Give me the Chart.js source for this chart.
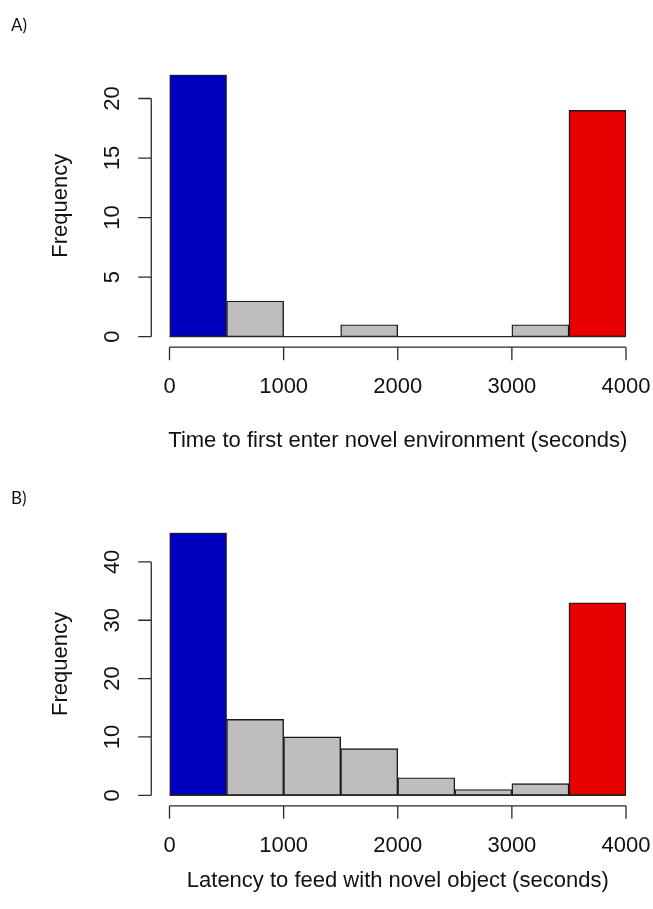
<!DOCTYPE html>
<html>
<head>
<meta charset="utf-8">
<script src="https://cdn.jsdelivr.net/npm/chart.js@4"></script>
<style>
  body { margin: 0; background: #fff; width: 653px; height: 909px; position: relative; overflow: hidden; }
  canvas { position: absolute; left: 0; display: block; }
  #cA { top: 0; }
  #cB { top: 460px; }
</style>
</head>
<body>
<canvas id="cA" width="653" height="460"></canvas>
<canvas id="cB" width="653" height="449"></canvas>
<script>
// histogram bins (seconds)
const binEdges = [0, 500, 1000, 1500, 2000, 2500, 3000, 3500, 4000];
const binColors = ['#0000BE', '#BEBEBE', '#BEBEBE', '#BEBEBE', '#BEBEBE', '#BEBEBE', '#BEBEBE', '#E80000'];

// A) time to first enter novel environment
const countsA = [22, 3, 0, 1, 0, 0, 1, 19];
const yTicksA = [0, 5, 10, 15, 20];
// B) latency to feed with novel object
const countsB = [45, 13, 10, 8, 3, 1, 2, 33];
const yTicksB = [0, 10, 20, 30, 40];

const xTicks = [0, 1000, 2000, 3000, 4000];
const xTitleA = 'Time to first enter novel environment (seconds)';
const xTitleB = 'Latency to feed with novel object (seconds)';
const yTitle = 'Frequency';

const FONT = '22px "Liberation Sans", Arial, sans-serif';
const INK = '#111';

// R-style detached axes, drawn off the chart scales
const rAxes = {
  id: 'rAxes',
  afterDraw(chart, args, opts) {
    const ctx = chart.ctx;
    const xs = chart.scales.x2, ys = chart.scales.y;
    const xmin = xs.min, xmax = xs.max, ymax = ys.max;
    const axX = xs.getPixelForValue(xmin - 0.04 * (xmax - xmin));
    const axY = ys.getPixelForValue(-0.04 * ymax);
    const tl = 13;
    ctx.save();
    ctx.strokeStyle = '#2a2a2a';
    ctx.fillStyle = INK;
    ctx.font = FONT;

    // zero line under empty bins
    ctx.beginPath();
    ctx.moveTo(xs.getPixelForValue(binEdges[0]), ys.getPixelForValue(0));
    ctx.lineTo(xs.getPixelForValue(binEdges[binEdges.length - 1]), ys.getPixelForValue(0));
    ctx.lineWidth = 1.3;
    ctx.stroke();

    // x axis
    ctx.beginPath();
    ctx.moveTo(xs.getPixelForValue(xTicks[0]), axY);
    ctx.lineTo(xs.getPixelForValue(xTicks[xTicks.length - 1]), axY);
    xTicks.forEach(t => {
      const px = xs.getPixelForValue(t);
      ctx.moveTo(px, axY);
      ctx.lineTo(px, axY + tl);
    });
    ctx.stroke();
    ctx.textAlign = 'center';
    ctx.textBaseline = 'middle';
    xTicks.forEach(t => ctx.fillText(String(t), xs.getPixelForValue(t), axY + 40));
    ctx.textBaseline = 'alphabetic';
    ctx.fillText(opts.xTitle, (xs.left + xs.right) / 2, axY + opts.titleGap);

    // y axis
    const yt = opts.yTicks;
    ctx.beginPath();
    ctx.moveTo(axX, ys.getPixelForValue(yt[0]));
    ctx.lineTo(axX, ys.getPixelForValue(yt[yt.length - 1]));
    yt.forEach(t => {
      const py = ys.getPixelForValue(t);
      ctx.moveTo(axX, py);
      ctx.lineTo(axX - tl, py);
    });
    ctx.stroke();
    yt.forEach(t => {
      ctx.save();
      ctx.translate(axX - 38, ys.getPixelForValue(t));
      ctx.rotate(-Math.PI / 2);
      ctx.textBaseline = 'middle';
      ctx.fillText(String(t), 0, 0);
      ctx.restore();
    });
    ctx.save();
    ctx.translate(axX - 90, ys.getPixelForValue(ymax / 2));
    ctx.rotate(-Math.PI / 2);
    ctx.textBaseline = 'middle';
    ctx.fillText(yTitle, 0, 0);
    ctx.restore();

    // panel letter
    ctx.font = '17px Lato, "Open Sans", sans-serif';
    ctx.textAlign = 'left';
    ctx.textBaseline = 'alphabetic';
    ctx.fillText(opts.panel, 11, opts.panelY);
    ctx.restore();
  }
};

function histogram(id, counts, yTicks, xTitle, panel, pad, titleGap, panelY) {
  const labels = binEdges.slice(0, -1).map((e, i) => e + '-' + binEdges[i + 1]);
  return new Chart(document.getElementById(id), {
    type: 'bar',
    data: {
      labels: labels,
      datasets: [{
        data: counts,
        backgroundColor: binColors,
        borderColor: '#1a1a1a',
        borderWidth: 1.4,
        borderSkipped: false,
        barPercentage: 1,
        categoryPercentage: 1
      }]
    },
    options: {
      responsive: false,
      animation: false,
      layout: { padding: pad },
      plugins: {
        legend: { display: false },
        tooltip: { enabled: false },
        rAxes: { xTitle: xTitle, yTicks: yTicks, panel: panel, titleGap: titleGap, panelY: panelY }
      },
      scales: {
        x: { display: false },
        x2: { type: 'linear', display: false, offset: false, min: binEdges[0], max: binEdges[binEdges.length - 1] },
        y: { display: false, min: 0, max: Math.max(...counts) }
      }
    },
    plugins: [rAxes]
  });
}

histogram('cA', countsA, yTicksA, xTitleA, 'A)', { left: 169.5, right: 27, top: 74.7, bottom: 460 - 336.7 }, 99.5, 31);
histogram('cB', countsB, yTicksB, xTitleB, 'B)', { left: 169.5, right: 27, top: 72.7, bottom: 449 - 335.3 }, 81, 44);
</script>
</body>
</html>
